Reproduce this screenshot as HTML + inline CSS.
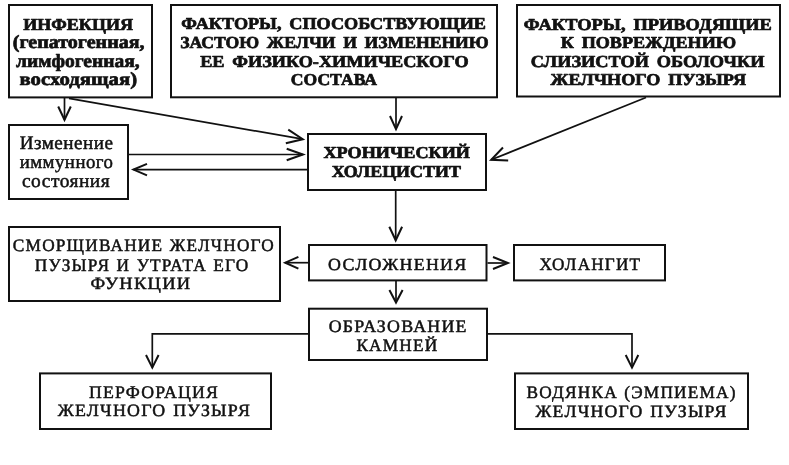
<!DOCTYPE html><html><head><meta charset="utf-8"><style>
html,body{margin:0;padding:0;background:#fff;width:789px;height:465px;overflow:hidden}
svg{display:block;position:absolute;left:0;top:0;will-change:transform}
.t{font-family:"Liberation Serif",serif;text-rendering:geometricPrecision;fill:#111;stroke:#111;stroke-width:0.5;stroke-linejoin:round}
.t[font-weight=bold]{stroke-width:0.7}
.bx{fill:none;stroke:#111;stroke-width:2}
.ln{fill:none;stroke:#111;stroke-width:1.7}
.ah{fill:none;stroke:#111;stroke-width:2;stroke-linejoin:miter;stroke-linecap:butt}

</style></head><body>
<svg width="789" height="465" viewBox="0 0 789 465">
<rect class="bx" x="9" y="5" width="143" height="92.4"/>
<rect class="bx" x="171" y="5" width="326" height="92.3"/>
<rect class="bx" x="517" y="5" width="263" height="91.5"/>
<rect class="bx" x="9" y="125" width="119" height="74"/>
<rect class="bx" x="308" y="134" width="178" height="56"/>
<rect class="bx" x="9" y="227" width="271" height="74"/>
<rect class="bx" x="309" y="245" width="177.5" height="35.39999999999998"/>
<rect class="bx" x="514" y="245" width="151" height="35.39999999999998"/>
<rect class="bx" x="309" y="308.7" width="178" height="51.30000000000001"/>
<rect class="bx" x="40" y="373.4" width="231" height="55.60000000000002"/>
<rect class="bx" x="515" y="373.4" width="233" height="55.60000000000002"/>
<path class="ln" d="M64.5,98 L64.5,119.8"/>
<path d="M58.20,106.50 L64.50,119.80 L70.80,106.50" class="ah"/>
<path class="ln" d="M69,98.3 L302.8,139.2"/>
<path d="M285.83,143.34 L302.80,139.20 L288.25,129.55" class="ah"/>
<path class="ln" d="M129,154.5 L303,154.5"/>
<path d="M286.70,160.30 L303.00,154.50 L286.70,148.70" class="ah"/>
<path class="ln" d="M307,169.6 L133.5,169.6"/>
<path d="M147.00,163.90 L133.50,169.60 L147.00,175.30" class="ah"/>
<path class="ln" d="M396,98 L396,129.2"/>
<path d="M390.00,116.00 L396.00,129.20 L402.00,116.00" class="ah"/>
<path class="ln" d="M646,97.5 L491.2,159.8"/>
<path d="M502.97,147.52 L491.20,159.80 L508.19,160.51" class="ah"/>
<path class="ln" d="M395.7,191 L395.7,240.3"/>
<path d="M389.30,226.80 L395.70,240.30 L402.10,226.80" class="ah"/>
<path class="ln" d="M308,262.7 L285.2,262.7"/>
<path d="M298.40,256.80 L285.20,262.70 L298.40,268.60" class="ah"/>
<path class="ln" d="M487.5,263 L508,263"/>
<path d="M493.00,269.00 L508.00,263.00 L493.00,257.00" class="ah"/>
<path class="ln" d="M396,281 L396,302.5"/>
<path d="M389.40,290.00 L396.00,302.50 L402.60,290.00" class="ah"/>
<path class="ln" d="M308,333.8 L152.3,333.8 L152.3,367.6"/>
<path d="M146.00,355.00 L152.30,367.60 L158.60,355.00" class="ah"/>
<path class="ln" d="M488,333.8 L632,333.8 L632,367.6"/>
<path d="M625.70,355.00 L632.00,367.60 L638.30,355.00" class="ah"/>
<text class="t" x="23.27" y="29.70" font-size="16.80" font-weight="bold" textLength="109.75" lengthAdjust="spacingAndGlyphs" style="word-spacing:3px">ИНФЕКЦИЯ</text>
<text class="t" x="12.84" y="48.10" font-size="18.74" font-weight="bold" textLength="131.72" lengthAdjust="spacingAndGlyphs" style="word-spacing:3px">(гепатогенная,</text>
<text class="t" x="16.00" y="67.10" font-size="18.74" font-weight="bold" textLength="123.57" lengthAdjust="spacingAndGlyphs" style="word-spacing:3px">лимфогенная,</text>
<text class="t" x="19.54" y="85.10" font-size="18.52" font-weight="bold" textLength="117.57" lengthAdjust="spacingAndGlyphs" style="word-spacing:3px">восходящая)</text>
<text class="t" x="181.28" y="29.30" font-size="16.65" font-weight="bold" textLength="304.65" lengthAdjust="spacingAndGlyphs" style="word-spacing:3px">ФАКТОРЫ, СПОСОБСТВУЮЩИЕ</text>
<text class="t" x="180.16" y="48.10" font-size="16.80" font-weight="bold" textLength="308.57" lengthAdjust="spacingAndGlyphs" style="word-spacing:3px">ЗАСТОЮ ЖЕЛЧИ И ИЗМЕНЕНИЮ</text>
<text class="t" x="200.15" y="66.50" font-size="16.65" font-weight="bold" textLength="268.48" lengthAdjust="spacingAndGlyphs" style="word-spacing:3px">ЕЕ ФИЗИКО-ХИМИЧЕСКОГО</text>
<text class="t" x="290.85" y="85.10" font-size="16.65" font-weight="bold" textLength="86.12" lengthAdjust="spacingAndGlyphs" style="word-spacing:3px">СОСТАВА</text>
<text class="t" x="523.87" y="29.70" font-size="16.65" font-weight="bold" textLength="247.97" lengthAdjust="spacingAndGlyphs" style="word-spacing:3px">ФАКТОРЫ, ПРИВОДЯЩИЕ</text>
<text class="t" x="560.76" y="48.30" font-size="16.65" font-weight="bold" textLength="175.38" lengthAdjust="spacingAndGlyphs" style="word-spacing:3px">К ПОВРЕЖДЕНИЮ</text>
<text class="t" x="530.87" y="66.70" font-size="16.80" font-weight="bold" textLength="233.67" lengthAdjust="spacingAndGlyphs" style="word-spacing:3px">СЛИЗИСТОЙ ОБОЛОЧКИ</text>
<text class="t" x="550.57" y="84.90" font-size="16.49" font-weight="bold" textLength="195.43" lengthAdjust="spacingAndGlyphs" style="word-spacing:3px">ЖЕЛЧНОГО ПУЗЫРЯ</text>
<text class="t" x="323.43" y="157.90" font-size="16.65" font-weight="bold" textLength="146.53" lengthAdjust="spacingAndGlyphs" style="word-spacing:3px">ХРОНИЧЕСКИЙ</text>
<text class="t" x="331.68" y="177.10" font-size="16.80" font-weight="bold" textLength="129.27" lengthAdjust="spacingAndGlyphs" style="word-spacing:3px">ХОЛЕЦИСТИТ</text>
<text class="t" x="19.68" y="149.00" font-size="19.17" font-weight="normal" textLength="93.78" lengthAdjust="spacingAndGlyphs" style="stroke-width:0.5;letter-spacing:0.5px">Изменение</text>
<text class="t" x="19.64" y="168.00" font-size="19.17" font-weight="normal" textLength="93.85" lengthAdjust="spacingAndGlyphs" style="stroke-width:0.5;letter-spacing:0.5px">иммунного</text>
<text class="t" x="21.98" y="187.20" font-size="19.17" font-weight="normal" textLength="88.22" lengthAdjust="spacingAndGlyphs" style="stroke-width:0.5;letter-spacing:0.5px">состояния</text>
<text class="t" x="12.87" y="251.00" font-size="17.41" font-weight="normal" textLength="262.16" lengthAdjust="spacingAndGlyphs" style="stroke-width:0.5;letter-spacing:1.2px;word-spacing:1px">СМОРЩИВАНИЕ ЖЕЛЧНОГО</text>
<text class="t" x="34.86" y="270.60" font-size="17.72" font-weight="normal" textLength="214.59" lengthAdjust="spacingAndGlyphs" style="stroke-width:0.5;letter-spacing:1.2px;word-spacing:1px">ПУЗЫРЯ И УТРАТА ЕГО</text>
<text class="t" x="90.50" y="288.60" font-size="17.26" font-weight="normal" textLength="101.01" lengthAdjust="spacingAndGlyphs" style="stroke-width:0.5;letter-spacing:1.2px;word-spacing:1px">ФУНКЦИИ</text>
<text class="t" x="328.14" y="269.60" font-size="16.95" font-weight="normal" textLength="139.33" lengthAdjust="spacingAndGlyphs" style="stroke-width:0.5;letter-spacing:1.2px;word-spacing:1px">ОСЛОЖНЕНИЯ</text>
<text class="t" x="539.39" y="269.60" font-size="17.41" font-weight="normal" textLength="101.83" lengthAdjust="spacingAndGlyphs" style="stroke-width:0.5;letter-spacing:1.2px;word-spacing:1px">ХОЛАНГИТ</text>
<text class="t" x="328.72" y="332.40" font-size="17.56" font-weight="normal" textLength="138.94" lengthAdjust="spacingAndGlyphs" style="stroke-width:0.5;letter-spacing:1.2px;word-spacing:1px">ОБРАЗОВАНИЕ</text>
<text class="t" x="356.38" y="351.00" font-size="17.41" font-weight="normal" textLength="81.99" lengthAdjust="spacingAndGlyphs" style="stroke-width:0.5;letter-spacing:1.2px;word-spacing:1px">КАМНЕЙ</text>
<text class="t" x="89.12" y="398.20" font-size="17.72" font-weight="normal" textLength="129.94" lengthAdjust="spacingAndGlyphs" style="stroke-width:0.5;letter-spacing:1.2px;word-spacing:1px">ПЕРФОРАЦИЯ</text>
<text class="t" x="57.68" y="416.20" font-size="17.26" font-weight="normal" textLength="193.36" lengthAdjust="spacingAndGlyphs" style="stroke-width:0.5;letter-spacing:1.2px;word-spacing:1px">ЖЕЛЧНОГО ПУЗЫРЯ</text>
<text class="t" x="526.56" y="398.00" font-size="17.41" font-weight="normal" textLength="210.07" lengthAdjust="spacingAndGlyphs" style="stroke-width:0.5;letter-spacing:1.2px;word-spacing:1px">ВОДЯНКА (ЭМПИЕМА)</text>
<text class="t" x="535.45" y="417.00" font-size="17.26" font-weight="normal" textLength="192.19" lengthAdjust="spacingAndGlyphs" style="stroke-width:0.5;letter-spacing:1.2px;word-spacing:1px">ЖЕЛЧНОГО ПУЗЫРЯ</text>
</svg></body></html>
